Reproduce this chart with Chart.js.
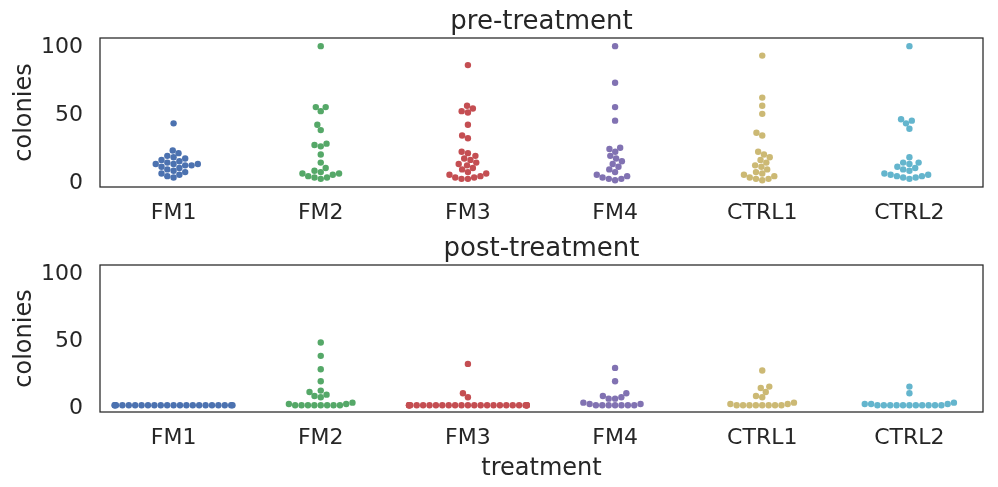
<!DOCTYPE html>
<html><head><meta charset="utf-8">
<script src="https://cdn.jsdelivr.net/npm/chart.js@4"></script>
<style>
html,body{margin:0;padding:0;background:#fff;}
#wrap{position:relative;width:998px;height:487px;overflow:hidden;}
.box{position:absolute;left:0;width:998px;}
</style></head><body>
<div id="wrap">
<div class="box" style="top:0;height:227px"><canvas id="pre"></canvas></div>
<div class="box" style="top:227px;height:260px"><canvas id="post"></canvas></div>
</div>
<script>
// ---- data ----
const categories = ['FM1', 'FM2', 'FM3', 'FM4', 'CTRL1', 'CTRL2'];
const colors = ['#4C72B0', '#55A868', '#C44E52', '#8172B2', '#CCB974', '#64B5CD'];
const yTicks = [0, 50, 100];
const yMin = -5, yMax = 105;

const preFM1 = [42, 22, 20, 18, 17, 16, 15, 14, 13, 12, 12, 12, 11, 11, 10, 9, 8, 7, 6, 5, 4, 3, 2];
const preFM2 = [99, 54, 54, 51, 41, 37, 27, 26, 25, 19, 13, 9, 7, 6, 5, 5, 4, 3, 2, 2, 1];
const preFM3 = [85, 55, 53, 51, 50, 41, 33, 31, 21, 20, 18, 16, 15, 13, 12, 11, 9, 8, 6, 5, 4, 3, 2, 2, 1, 1];
const preFM4 = [99, 72, 54, 44, 24, 23, 21, 18, 16, 14, 12, 10, 8, 6, 4, 3, 2, 1, 1, 0];
const preCTRL1 = [92, 61, 55, 49, 35, 33, 21, 19, 17, 15, 13, 11, 10, 8, 6, 5, 4, 3, 2, 1, 1, 0];
const preCTRL2 = [99, 45, 44, 42, 38, 17, 13, 13, 12, 10, 9, 8, 7, 5, 4, 4, 3, 3, 2, 2, 1];

const postFM1 = [0, 0, 0, 0, 0, 0, 0, 0, 0, 0, 0, 0, 0, 0, 0, 0, 0, 0, 0, 0, 0, 0];
const postFM2 = [47, 37, 27, 18, 11, 10, 8, 7, 6, 2, 1, 1, 0, 0, 0, 0, 0, 0, 0, 0];
const postFM3 = [31, 9, 6, 0, 0, 0, 0, 0, 0, 0, 0, 0, 0, 0, 0, 0, 0, 0, 0, 0, 0, 0, 0, 0, 0, 0, 0, 0];
const postFM4 = [28, 18, 9, 7, 6, 5, 5, 2, 1, 1, 0, 0, 0, 0, 0, 0, 0];
const postCTRL1 = [26, 14, 13, 10, 7, 6, 2, 1, 1, 0, 0, 0, 0, 0, 0, 0, 0];
const postCTRL2 = [14, 9, 2, 1, 1, 1, 0, 0, 0, 0, 0, 0, 0, 0, 0, 0, 0];

const preValues = [preFM1, preFM2, preFM3, preFM4, preCTRL1, preCTRL2];
const postValues = [postFM1, postFM2, postFM3, postFM4, postCTRL1, postCTRL2];

// ---- style ----
const FONT = 'DejaVu Sans';
const TXT = '#262626';
const R = 3.2;          // marker radius (px)
const GAP = 2 * R;      // swarm spacing (px)
const HALF_WIDTH = 0.4; // swarm half width in category units

const framePlugin = {
  id: 'frame',
  afterDraw(chart) {
    const a = chart.chartArea, ctx = chart.ctx;
    ctx.save();
    ctx.strokeStyle = TXT;
    ctx.lineWidth = 1.25;
    ctx.strokeRect(a.left, a.top, a.right - a.left, a.bottom - a.top);
    ctx.restore();
  }
};

function swarm(chart) {
  const xs = chart.scales.x, ys = chart.scales.y;
  const halfPx = Math.abs(xs.getPixelForValue(HALF_WIDTH) - xs.getPixelForValue(0));
  chart.data.datasets.forEach((ds, i) => {
    const cx = xs.getPixelForValue(i);
    const pts = ds.values.map(v => ({ v, y: ys.getPixelForValue(v), off: 0 }))
      .sort((a, b) => a.v - b.v);
    const placed = [];
    pts.forEach(p => {
      const near = placed.filter(q => Math.abs(q.y - p.y) < GAP);
      const cands = [0];
      near.forEach(q => {
        const dx = Math.sqrt(GAP * GAP - (q.y - p.y) * (q.y - p.y));
        cands.push(q.off - dx, q.off + dx);
      });
      const order = cands.map((c, k) => ({ c, k })).sort((a, b) => (Math.abs(a.c) - Math.abs(b.c)) || (a.k - b.k));
      let chosen = order[order.length - 1].c;
      for (const o of order) {
        if (near.every(q => (q.off - o.c) ** 2 + (q.y - p.y) ** 2 >= GAP * GAP - 0.01)) { chosen = o.c; break; }
      }
      p.off = chosen;
      placed.push(p);
    });
    ds.data = placed.map(p => {
      const off = Math.max(-halfPx, Math.min(halfPx, p.off));
      return { x: xs.getValueForPixel(cx + off), y: p.v };
    });
  });
}

function makeChart(id, values, title, xAxisHeight, showXTitle) {
  const datasets = values.map((vals, i) => ({
    label: categories[i],
    values: vals,
    data: vals.map(v => ({ x: i, y: v })),
    backgroundColor: colors[i],
    borderWidth: 0,
    pointRadius: R,
    pointHoverRadius: R
  }));
  const chart = new Chart(document.getElementById(id), {
    type: 'scatter',
    data: { datasets },
    options: {
      responsive: true,
      maintainAspectRatio: false,
      animation: false,
      events: [],
      layout: { padding: { left: 0, right: 15, top: 0, bottom: 0 } },
      plugins: {
        legend: { display: false },
        tooltip: { enabled: false },
        title: {
          display: true, text: title, color: TXT, fullSize: false,
          font: { family: FONT, size: 26, weight: 'normal' },
          padding: { top: 6.5, bottom: 0.3 }
        }
      },
      scales: {
        x: {
          type: 'linear', min: -0.5, max: 5.5,
          grid: { display: false, drawTicks: false },
          border: { display: false },
          afterBuildTicks: s => { s.ticks = categories.map((c, i) => ({ value: i })); },
          afterFit: s => { s.height = xAxisHeight; },
          ticks: {
            color: TXT, padding: 13, autoSkip: false, maxRotation: 0,
            font: { family: FONT, size: 22 },
            callback: v => categories[v]
          },
          title: {
            display: showXTitle, text: 'treatment', color: TXT,
            font: { family: FONT, size: 24 }, padding: { top: 0, bottom: 3.6 }
          }
        },
        y: {
          type: 'linear', min: yMin, max: yMax,
          grid: { display: false, drawTicks: false },
          border: { display: false },
          afterBuildTicks: s => { s.ticks = yTicks.map(v => ({ value: v })); },
          afterFit: s => { s.width = 100; },
          ticks: { color: TXT, padding: 17, labelOffset: 3, font: { family: FONT, size: 22 } },
          title: {
            display: true, text: 'colonies', color: TXT,
            font: { family: FONT, size: 24 }, padding: { top: 10.6, bottom: 0 }
          }
        }
      }
    },
    plugins: [framePlugin]
  });
  swarm(chart);
  chart.update('none');
  return chart;
}

makeChart('pre', preValues, 'pre-treatment', 40, false);
makeChart('post', postValues, 'post-treatment', 75, true);
</script>
</body></html>
